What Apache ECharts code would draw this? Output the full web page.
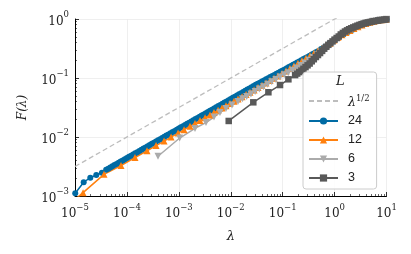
<!DOCTYPE html>
<html><head><meta charset="utf-8">
<script src="https://cdn.jsdelivr.net/npm/echarts@6/dist/echarts.min.js"></script>
<style>html,body{margin:0;padding:0;background:#fff}#c{width:411px;height:254px}</style>
</head><body><div id="c"></div>
<script>
// reference line lambda^{1/2}
const lamRef = [1e-5, 10];
const FRef = [0.00316, 3.16];
// L = 24
const lam24 = [1.01e-5,1.47e-5,1.97e-5,2.57e-5,3.3e-5,
 3.981e-5,4.365e-5,4.786e-5,5.248e-5,5.754e-5,6.310e-5,6.918e-5,7.586e-5,8.318e-5,9.120e-5,
 1.000e-4,1.096e-4,1.202e-4,1.318e-4,1.445e-4,1.585e-4,1.738e-4,1.905e-4,2.089e-4,2.291e-4,2.512e-4,2.754e-4,3.020e-4,3.311e-4,3.631e-4,3.981e-4,4.365e-4,4.786e-4,5.248e-4,5.754e-4,6.310e-4,6.918e-4,7.586e-4,8.318e-4,9.120e-4,
 1.000e-3,1.096e-3,1.202e-3,1.318e-3,1.445e-3,1.585e-3,1.738e-3,1.905e-3,2.089e-3,2.291e-3,2.512e-3,2.754e-3,3.020e-3,3.311e-3,3.631e-3,3.981e-3,4.365e-3,4.786e-3,5.248e-3,5.754e-3,6.310e-3,6.918e-3,7.586e-3,8.318e-3,9.120e-3,
 1.000e-2,1.096e-2,1.202e-2,1.318e-2,1.445e-2,1.585e-2,1.738e-2,1.905e-2,2.089e-2,2.291e-2,2.512e-2,2.754e-2,3.020e-2,3.311e-2,3.631e-2,3.981e-2,4.365e-2,4.786e-2,5.248e-2,5.754e-2,6.310e-2,6.918e-2,7.586e-2,8.318e-2,9.120e-2,
 0.1,0.1096,0.1202,0.1318,0.1445,0.1585,0.1738,0.1905,0.2089,0.2291,0.2512,0.2754,0.3020,0.3311,0.3631,0.3981,0.4365,0.4786,
 0.55,0.65,0.8,1.0,1.2,1.5,1.8,2.2,2.7,3.3,4.0,5.0,6.5,8.0,10];
const F24 = [1.11e-3,1.71e-3,2.04e-3,2.27e-3,2.48e-3,
 2.775e-3,2.906e-3,3.044e-3,3.187e-3,3.337e-3,3.494e-3,3.659e-3,3.831e-3,4.012e-3,4.201e-3,
 4.40e-3,4.61e-3,4.82e-3,5.05e-3,5.29e-3,5.54e-3,5.80e-3,6.07e-3,6.36e-3,6.66e-3,6.97e-3,7.30e-3,7.65e-3,8.01e-3,8.38e-3,8.78e-3,9.19e-3,9.63e-3,1.008e-2,1.056e-2,1.105e-2,1.157e-2,1.212e-2,1.269e-2,1.329e-2,
 1.391e-2,1.457e-2,1.525e-2,1.597e-2,1.672e-2,1.752e-2,1.834e-2,1.920e-2,2.010e-2,2.106e-2,2.205e-2,2.309e-2,2.418e-2,2.532e-2,2.650e-2,2.775e-2,2.906e-2,3.044e-2,3.187e-2,3.337e-2,3.494e-2,3.659e-2,3.831e-2,4.012e-2,4.201e-2,
 0.0440,0.0461,0.0482,0.0505,0.0529,0.0554,0.0580,0.0607,0.0636,0.0666,0.0697,0.0730,0.0765,0.0797,0.0832,0.0869,0.0908,0.0949,0.0991,0.1035,0.1081,0.1129,0.1179,0.1232,0.1286,
 0.134,0.140,0.146,0.153,0.160,0.167,0.175,0.183,0.191,0.200,0.209,0.218,0.228,0.238,0.249,0.260,0.272,0.284,
 0.31,0.34,0.39,0.445,0.49,0.55,0.60,0.66,0.73,0.79,0.85,0.90,0.945,0.97,0.99];
// L = 12
const lam12 = [4.5e-6,1.43e-5,3.62e-5,7.69e-5,1.43e-4,2.44e-4,3.64e-4,5.19e-4,7.08e-4,9.66e-4,1.26e-3,1.64e-3,2.05e-3,2.56e-3,3.20e-3,3.99e-3,4.76e-3,5.69e-3,6.79e-3,8.11e-3,9.68e-3,0.01156,0.0138,0.0165,0.0197,0.0235,0.0281,0.0335,0.040,0.0478,0.057,0.0681,0.0813,0.097,0.116,0.138,0.165,0.197,0.235,0.281,0.336,0.401,0.479,0.571,0.682,0.815,0.973,1.16,1.39,1.66,1.98,2.36,2.82,3.37,4.02,4.80,5.73,6.84,8.17,9.75];
const F12 = [4.8e-4,1.14e-3,2.33e-3,3.29e-3,4.49e-3,5.85e-3,7.16e-3,8.54e-3,9.98e-3,0.01166,0.0133,0.0152,0.0170,0.0190,0.0212,0.0237,0.0259,0.0283,0.0309,0.0338,0.0369,0.0403,0.0441,0.0482,0.0526,0.0575,0.0628,0.0687,0.075,0.082,0.0907,0.099,0.108,0.119,0.131,0.145,0.160,0.177,0.196,0.216,0.238,0.262,0.290,0.32,0.355,0.39,0.44,0.49,0.54,0.59,0.64,0.69,0.74,0.79,0.84,0.88,0.915,0.945,0.97,0.99];
// L = 6
const lam6 = [3.97e-4,1.04e-3,2.05e-3,3.34e-3,4.76e-3,6.2e-3,8.1e-3,0.0106,0.0138,0.0168,0.0203,0.0245,0.0295,0.0355,0.0427,0.0513,0.0617,0.0741,0.089,0.107,0.128,0.154,0.185,0.222,0.267,0.32,0.385,0.46,0.55,0.66,0.8,1.0,1.3,1.7,2.2,3.0,4.0,5.5,7.5,10];
const F6 = [4.71e-3,9.6e-3,0.0140,0.0176,0.0218,0.026,0.0304,0.0349,0.040,0.0443,0.0488,0.0536,0.059,0.065,0.0713,0.0783,0.086,0.0943,0.1035,0.113,0.123,0.135,0.148,0.163,0.18,0.2,0.222,0.248,0.277,0.31,0.355,0.43,0.51,0.6,0.68,0.77,0.85,0.92,0.96,0.99];
// L = 3
const lam3 = [0.00914,0.0272,0.0531,0.089,0.129,
 0.1738,0.1905,0.2089,0.2291,0.2512,0.2754,0.3020,0.3311,0.3631,0.3981,0.4365,0.4786,0.5248,0.5754,0.6310,0.6918,0.7586,0.8318,0.9120,
 1.0,1.096,1.202,1.318,1.445,1.585,1.738,1.905,2.089,2.291,2.512,2.754,3.020,3.311,3.631,3.981,4.365,4.786,5.248,5.754,6.310,6.918,7.586,8.318,9.120,10.0];
const F3 = [0.0187,0.0387,0.0573,0.076,0.095,
 0.112,0.119,0.126,0.134,0.143,0.153,0.164,0.176,0.192,0.208,0.227,0.245,0.265,0.288,0.314,0.338,0.365,0.39,0.417,
 0.447,0.476,0.505,0.547,0.58,0.613,0.642,0.67,0.695,0.72,0.745,0.77,0.795,0.818,0.838,0.858,0.874,0.889,0.903,0.918,0.931,0.944,0.955,0.966,0.976,0.985];

const seriesNames = ['ref','24','12','6','3'];
const colors = ['#bdbdbd','#006BA4','#FF800E','#ABABAB','#595959'];

function zip(a,b){const n=Math.min(a.length,b.length);const o=[];for(let i=0;i<n;i++)o.push([a[i],b[i]]);return o;}
function pow10(v){const e=Math.round(Math.log10(v));return '{b|10}{s|'+(e<0?'\u2212'+(-e):e)+'}';}

const serif = 'DejaVu Serif';
const sans = 'Liberation Sans';
const richTick = {b:{fontFamily:serif,fontSize:12,color:'#222',padding:[5,0,0,0]},s:{fontFamily:serif,fontSize:8.5,color:'#222',verticalAlign:'top'}};

const chart = echarts.init(document.getElementById('c'),null,{renderer:'canvas'});
function mk(name,lam,F,color,symbol,size,rot){
  return {name:name,type:'line',data:zip(lam,F),symbol:symbol,symbolSize:size,symbolRotate:rot||0,
    showSymbol:true,showAllSymbol:true,clip:true,animation:false,
    lineStyle:{color:color,width:1.5},itemStyle:{color:color}};
}
const axisCommon = {
  type:'log',logBase:10,
  axisLine:{show:true,lineStyle:{color:'#000',width:1}},
  axisTick:{show:true,inside:true,length:4,lineStyle:{color:'#000',width:0.8}},
  minorTick:{show:true,splitNumber:9,length:2,lineStyle:{color:'#000',width:0.6}},
  splitLine:{show:true,lineStyle:{color:'#ebebeb',width:0.8}},
  minorSplitLine:{show:false},
  axisLabel:{formatter:pow10,rich:richTick}
};
chart.setOption({
  animation:false,
  grid:{left:75,right:24.5,top:19,bottom:58,containLabel:false},
  xAxis:Object.assign({},axisCommon,{min:1e-5,max:10,name:'λ',nameLocation:'middle',nameGap:34,
    nameTextStyle:{fontFamily:serif,fontStyle:'italic',fontSize:13,color:'#222'},
    axisLabel:{formatter:pow10,rich:richTick,margin:7}}),
  yAxis:Object.assign({},axisCommon,{min:1e-3,max:1,name:'F(λ)',nameLocation:'middle',nameGap:46,nameRotate:90,
    nameTextStyle:{fontFamily:serif,fontStyle:'italic',fontSize:12,color:'#222'},
    axisLabel:{formatter:pow10,rich:richTick,margin:6}}),
  legend:{orient:'vertical',left:303,top:72,
    padding:[22,7,4,5],itemGap:5,itemWidth:29,itemHeight:9,
    backgroundColor:'rgba(255,255,255,0.85)',borderColor:'#cccccc',borderWidth:1,borderRadius:3,
    data:[{name:'ref',itemStyle:{opacity:0}},'24','12','6','3'],
    formatter:function(n){return n==='ref'?'{it|λ}{s|1/2}':'{t|'+n+'}';},
    textStyle:{padding:[0,0,0,5],lineHeight:14,
      rich:{t:{fontFamily:sans,fontSize:12.5,color:'#222'},
            it:{fontFamily:serif,fontStyle:'italic',fontSize:12.5,color:'#222',padding:[3,0,0,0]},
            s:{fontFamily:serif,fontSize:8.5,color:'#222',verticalAlign:'top'}}}
  },
  graphic:[{type:'text',left:336,top:75,style:{text:'L',font:'italic 13px "DejaVu Serif"',fill:'#222'},z:100}],
  series:[
    {name:'ref',type:'line',data:zip(lamRef,FRef),showSymbol:false,symbol:'none',clip:true,
      lineStyle:{color:colors[0],width:1.3,type:[5,3]},itemStyle:{color:colors[0]}},
    mk('24',lam24,F24,colors[1],'circle',6),
    mk('12',lam12,F12,colors[2],'triangle',7),
    mk('6',lam6,F6,colors[3],'triangle',7,180),
    mk('3',lam3,F3,colors[4],'rect',6.5)
  ]
});
</script></body></html>
